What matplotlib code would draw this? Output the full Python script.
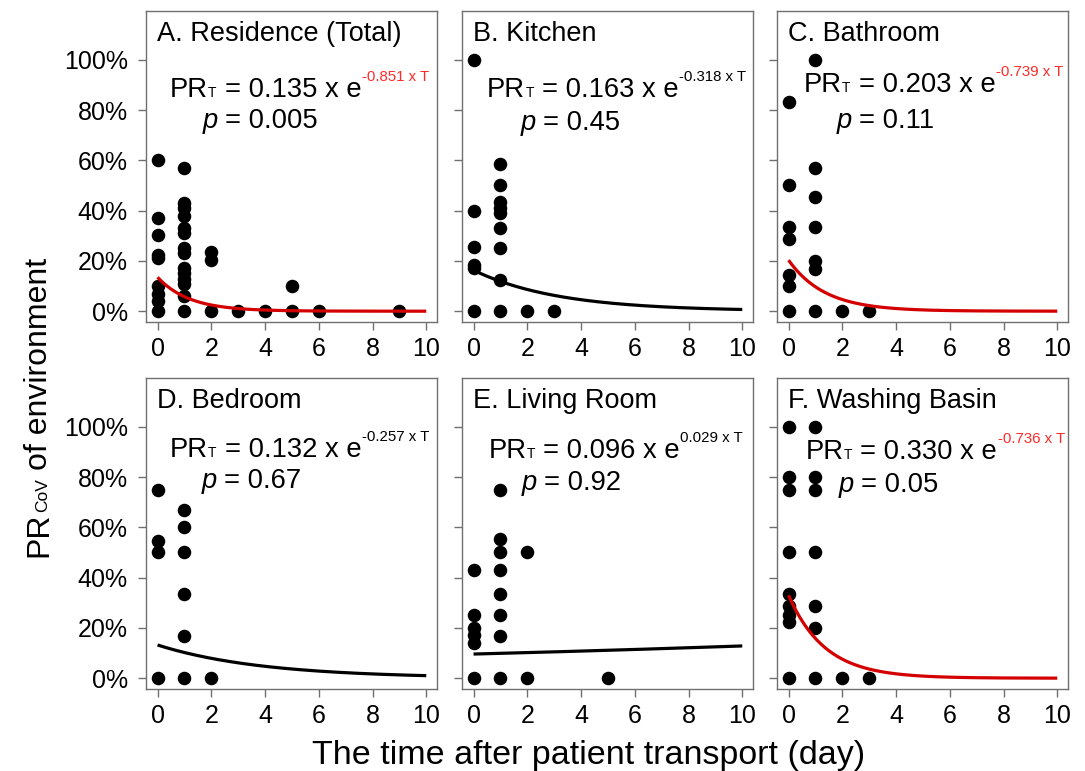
import numpy as np
import matplotlib
matplotlib.use('Agg')
import matplotlib.pyplot as plt
import matplotlib.transforms as mtransforms

plt.rcParams['font.family'] = ['Liberation Sans', 'DejaVu Sans']

# ---------------- data ----------------
panel_titles = ["A. Residence (Total)", "B. Kitchen", "C. Bathroom",
                "D. Bedroom", "E. Living Room", "F. Washing Basin"]

A_days = [0, 0, 0, 0, 0, 0, 0, 0, 0,
          1, 1, 1, 1, 1, 1, 1, 1, 1, 1, 1, 1, 1, 1,
          2, 2, 2, 3, 4, 5, 5, 6, 9]
A_prev = [0.60, 0.37, 0.305, 0.225, 0.21, 0.10, 0.07, 0.04, 0.0,
          0.57, 0.43, 0.41, 0.38, 0.33, 0.31, 0.25, 0.23, 0.17, 0.15, 0.13, 0.11, 0.06, 0.0,
          0.235, 0.205, 0.0, 0.0, 0.0, 0.10, 0.0, 0.0, 0.0]

B_days = [0, 0, 0, 0, 0, 0,
          1, 1, 1, 1, 1, 1, 1, 1, 1,
          2, 3]
B_prev = [1.0, 0.40, 0.255, 0.185, 0.17, 0.0,
          0.585, 0.50, 0.435, 0.41, 0.39, 0.33, 0.25, 0.125, 0.0,
          0.0, 0.0]

C_days = [0, 0, 0, 0, 0, 0, 0,
          1, 1, 1, 1, 1, 1, 1,
          2, 3]
C_prev = [0.833, 0.50, 0.333, 0.286, 0.143, 0.10, 0.0,
          1.0, 0.571, 0.455, 0.333, 0.20, 0.167, 0.0,
          0.0, 0.0]

D_days = [0, 0, 0, 0,
          1, 1, 1, 1, 1, 1,
          2]
D_prev = [0.75, 0.545, 0.50, 0.0,
          0.667, 0.60, 0.50, 0.333, 0.167, 0.0,
          0.0]

E_days = [0, 0, 0, 0, 0, 0,
          1, 1, 1, 1, 1, 1, 1, 1,
          2, 2, 5]
E_prev = [0.43, 0.25, 0.20, 0.17, 0.14, 0.0,
          0.75, 0.555, 0.50, 0.43, 0.333, 0.25, 0.167, 0.0,
          0.50, 0.0, 0.0]

F_days = [0, 0, 0, 0, 0, 0, 0, 0, 0,
          1, 1, 1, 1, 1, 1, 1,
          2, 3]
F_prev = [1.0, 0.80, 0.75, 0.50, 0.333, 0.286, 0.25, 0.222, 0.0,
          1.0, 0.80, 0.75, 0.50, 0.286, 0.20, 0.0,
          0.0, 0.0]

fit_coef = [0.135, 0.163, 0.203, 0.132, 0.096, 0.330]
fit_rate = [-0.851, -0.318, -0.739, -0.257, 0.029, -0.736]
p_values = ["0.005", "0.45", "0.11", "0.67", "0.92", "0.05"]
significant = [True, False, True, False, False, True]

x_ticks = [0, 2, 4, 6, 8, 10]
y_ticks = [0.0, 0.2, 0.4, 0.6, 0.8, 1.0]
y_ticklabels = ["0%", "20%", "40%", "60%", "80%", "100%"]

all_days = [A_days, B_days, C_days, D_days, E_days, F_days]
all_prev = [A_prev, B_prev, C_prev, D_prev, E_prev, F_prev]

# ---------------- layout / style ----------------
W, H = 1085, 771
fig = plt.figure(figsize=(W / 100, H / 100), dpi=100)
renderer = fig.canvas.get_renderer()

col_left = [146, 462, 777]
row_top = [11, 378]
ax_w, ax_h = 291, 311

eq_pos = [(0.45, 0.853), (0.50, 0.850), (0.56, 0.870),
          (0.45, 0.880), (0.55, 0.876), (0.63, 0.870)]
p_pos = [(1.68, 0.728), (1.74, 0.720), (1.80, 0.730),
         (1.65, 0.757), (1.78, 0.750), (1.86, 0.740)]

RED_LINE = '#d40000'
RED_TXT = '#ff2a2a'
SPINE = '#707070'
EQ_FS = 19.7


def place_pieces(ax, x, y, pieces):
    dx = 0.0
    for txt, fs, col, style, dy, gap in pieces:
        dx += gap
        tr = mtransforms.offset_copy(ax.transData, fig=fig, x=dx, y=dy, units='dots')
        t = ax.text(x, y, txt, fontsize=fs, color=col, style=style,
                    transform=tr, ha='left', va='baseline', zorder=5)
        dx += t.get_window_extent(renderer).width


for i in range(6):
    r, c = divmod(i, 3)
    left = col_left[c] / W
    bottom = 1 - (row_top[r] + ax_h) / H
    ax = fig.add_axes([left, bottom, ax_w / W, ax_h / H])
    ax.set_xlim(-0.43, 10.4)
    ax.set_ylim(-0.043, 1.194)

    ax.scatter(all_days[i], all_prev[i], s=95, color='black', zorder=3, linewidths=0)
    T = np.linspace(0, 10, 200)
    ax.plot(T, fit_coef[i] * np.exp(fit_rate[i] * T),
            color=RED_LINE if significant[i] else 'black', lw=2.3, zorder=4,
            solid_capstyle='butt')

    ax.set_xticks(x_ticks)
    ax.set_xticklabels([str(v) for v in x_ticks])
    ax.set_yticks(y_ticks)
    if c == 0:
        ax.set_yticklabels(y_ticklabels)
    else:
        ax.set_yticklabels([])
    ax.tick_params(axis='both', colors=SPINE, labelcolor='black', length=6,
                   width=1, labelsize=18, direction='out')
    ax.tick_params(axis='x', pad=5)
    ax.tick_params(axis='y', pad=7)
    for sp in ax.spines.values():
        sp.set_color(SPINE)
        sp.set_linewidth(1.0)

    ax.text(0.038, 0.905, panel_titles[i], transform=ax.transAxes,
            fontsize=19.5, ha='left', va='baseline')

    exp_col = RED_TXT if significant[i] else 'black'
    exp_str = "%.3f x T" % fit_rate[i]
    ex, ey = eq_pos[i]
    place_pieces(ax, ex, ey, [
        ("PR", EQ_FS, 'black', 'normal', 0, 0),
        ("T", 10, 'black', 'normal', 0, 0.5),
        ("= %.3f x e" % fit_coef[i], EQ_FS, 'black', 'normal', 0, 8),
        (exp_str, 10.8, exp_col, 'normal', 16, 0.5),
    ])
    px, py = p_pos[i]
    place_pieces(ax, px, py, [
        ("p", EQ_FS, 'black', 'italic', 0, 0),
        ("= " + p_values[i], EQ_FS, 'black', 'normal', 0, 7),
    ])

# x label
fig.text(589 / W, 1 - 764 / H, "The time after patient transport (day)",
         fontsize=24.5, ha='center', va='baseline')

# y label built from pieces (rotated)
ylab_x, ylab_y = 47 / W, 1 - 557 / H
dy = 0.0
for txt, fs, gap in [("PR", 23, 0), ("CoV", 12.5, 0.5), ("of environment", 23, 8)]:
    dy += gap
    tr = mtransforms.offset_copy(fig.transFigure, fig=fig, x=0, y=dy, units='dots')
    t = fig.text(ylab_x, ylab_y, txt, fontsize=fs, rotation=90,
                 rotation_mode='anchor', ha='left', va='baseline', transform=tr)
    dy += t.get_window_extent(renderer).height

fig.savefig('out.png', dpi=100)
